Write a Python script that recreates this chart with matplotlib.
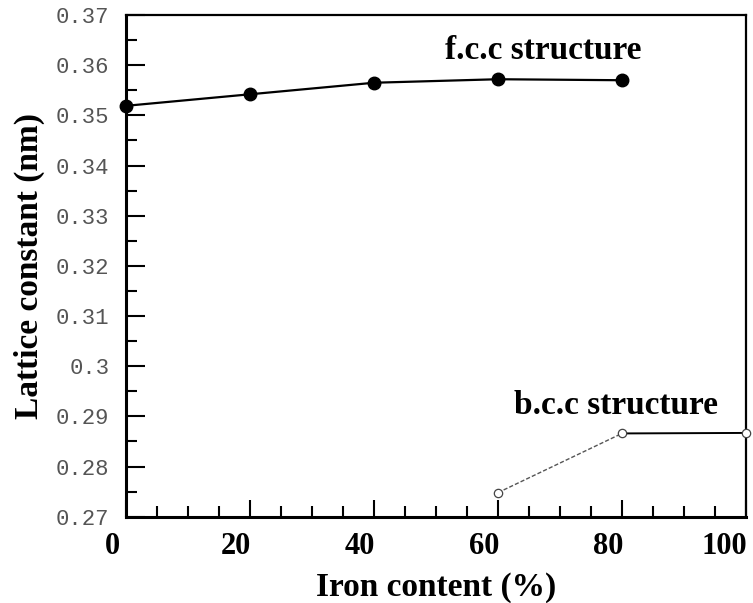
import numpy as np
import matplotlib.pyplot as plt
import matplotlib.transforms as mtransforms
from matplotlib.ticker import MultipleLocator, FixedLocator

# lattice constant vs iron content
fcc_iron = [0, 20, 40, 60, 80]
fcc_lattice = [0.3519, 0.3542, 0.3565, 0.3572, 0.3570]
bcc_iron = [60, 80, 100]
bcc_lattice = [0.2748, 0.2866, 0.2867]

y_ticks = [0.27, 0.28, 0.29, 0.30, 0.31, 0.32, 0.33, 0.34, 0.35, 0.36, 0.37]
y_labels = ['0.27', '0.28', '0.29', '0.3', '0.31', '0.32', '0.33', '0.34', '0.35', '0.36', '0.37']
x_ticks = [0, 20, 40, 60, 80, 100]

serif = ['Liberation Serif', 'DejaVu Serif']
mono = ['Liberation Mono', 'DejaVu Sans Mono']

fig = plt.figure(figsize=(7.53, 6.03), dpi=100)
ax = fig.add_axes([0.1673, 0.1431, 0.8234, 0.832])

# fcc branch: filled dots, solid line
ax.plot(fcc_iron, fcc_lattice, color='black', lw=1.6, marker='o', ms=9,
        clip_on=False, zorder=3)

# bcc branch: dashed up to 80 %, then flat solid line
ax.plot(bcc_iron[:2], bcc_lattice[:2], color='#555555', lw=1.0, ls=(0, (3, 1.5)),
        clip_on=False)
ax.plot(bcc_iron[1:], bcc_lattice[1:], color='black', lw=1.4, clip_on=False)
ax.plot(bcc_iron, bcc_lattice, ls='none', marker='o', ms=6, mfc='white',
        mec='#444444', mew=0.9, clip_on=False, zorder=3)

ax.text(67.3, 0.3630, 'f.c.c structure', ha='center', va='center',
        fontsize=24, fontweight='bold', family=serif)
ax.text(79.0, 0.2922, 'b.c.c structure', ha='center', va='center',
        fontsize=24, fontweight='bold', family=serif)

ax.set_xlim(0, 100)
ax.set_ylim(0.27, 0.37)

ax.xaxis.set_major_locator(FixedLocator(x_ticks))
ax.xaxis.set_minor_locator(MultipleLocator(5))
ax.yaxis.set_major_locator(FixedLocator(y_ticks))
ax.yaxis.set_minor_locator(MultipleLocator(0.005))
ax.set_yticklabels(y_labels)

ax.tick_params(axis='both', which='both', direction='in', top=False, right=False,
               color='black')
ax.tick_params(axis='x', which='major', length=12, width=1.5, pad=11)
ax.tick_params(axis='x', which='minor', length=8, width=1.5)
ax.tick_params(axis='y', which='major', length=14, width=1.5, pad=12)
ax.tick_params(axis='y', which='minor', length=8, width=1.5)

# x labels sit a little left of their ticks; the last one is pulled in further
for i, lbl in enumerate(ax.get_xticklabels()):
    lbl.set_fontfamily(serif)
    lbl.set_fontweight('bold')
    lbl.set_fontsize(22)
    dx = -0.22 if i == len(x_ticks) - 1 else -0.14
    lbl.set_transform(lbl.get_transform() +
                      mtransforms.ScaledTranslation(dx, 0, fig.dpi_scale_trans))
for lbl in ax.get_yticklabels():
    lbl.set_fontfamily(mono)
    lbl.set_fontsize(16)
    lbl.set_color('#555555')

for side in ['left', 'bottom']:
    ax.spines[side].set_linewidth(2.2)
for side in ['top', 'right']:
    ax.spines[side].set_linewidth(1.6)

ax.set_xlabel('Iron content (%)', fontsize=24, fontweight='bold', family=serif,
              labelpad=8)
ax.set_ylabel('Lattice constant (nm)', fontsize=24, fontweight='bold', family=serif,
              labelpad=8)

fig.savefig('out.png', dpi=100)
